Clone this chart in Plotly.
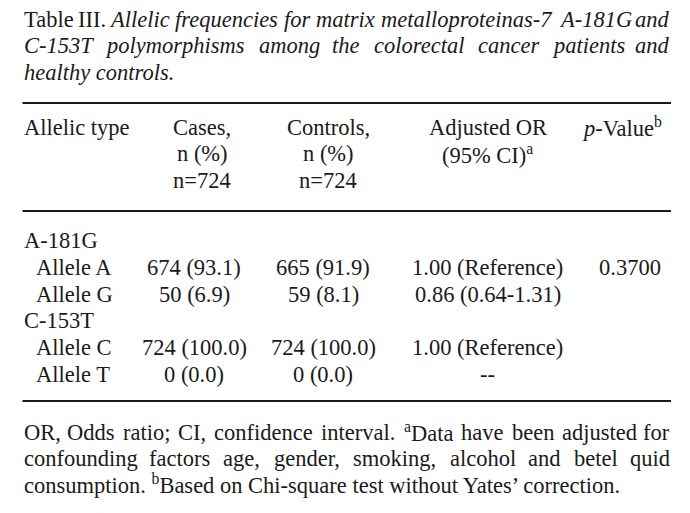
import plotly.graph_objects as go

# ---------------- data ----------------
title_prefix = "Table III."
title_text = ("Allelic frequencies for matrix metalloproteinas-7 A-181G and "
              "C-153T polymorphisms among the colorectal cancer patients and "
              "healthy controls.")
header_cols = ["Allelic type", "Cases,<br>n (%)<br>n=724", "Controls,<br>n (%)<br>n=724",
               "Adjusted OR<br>(95% CI)<sup>a</sup>", "<i>p</i>-Value<sup>b</sup>"]
loci = ["A-181G", "C-153T"]
alleles = ["Allele A", "Allele G", "Allele C", "Allele T"]
cases_n = [674, 50, 724, 0]
cases_pct = [93.1, 6.9, 100.0, 0.0]
controls_n = [665, 59, 724, 0]
controls_pct = [91.9, 8.1, 100.0, 0.0]
adjusted_or = ["1.00 (Reference)", "0.86 (0.64-1.31)", "1.00 (Reference)", "--"]
p_values = ["0.3700", "", "", ""]
footnote_lines = [
    ["OR,", "Odds", "ratio;", "CI,", "confidence", "interval.", "<sup>a</sup>Data", "have", "been", "adjusted", "for"],
    ["confounding", "factors", "age,", "gender,", "smoking,", "alcohol", "and", "betel", "quid"],
]
footnote_last = "consumption. <sup>b</sup>Based on Chi-square test without Yates\u2019 correction."

# ---------------- style ----------------
FONT = "Liberation Serif, Times New Roman, serif"
FS = 22.5
COLOR = "#1a1a1a"
LEFT, RIGHT = 22.5, 671
OFF = 8  # page body margin

# Times metrics (1/1000 em) for justification
ROMAN = dict(zip("ABCDEFGHIJKLMNOPQRSTUVWXYZ",
                 [722, 667, 667, 722, 611, 556, 722, 722, 333, 389, 722, 611, 889, 722, 722, 556, 722, 667, 556, 611, 722, 722, 944, 722, 722, 611]))
ROMAN.update(zip("abcdefghijklmnopqrstuvwxyz",
                 [444, 500, 444, 500, 444, 333, 500, 500, 278, 278, 500, 278, 778, 500, 500, 500, 500, 333, 389, 278, 500, 500, 722, 500, 500, 444]))
ROMAN.update({" ": 250, ",": 250, ".": 250, ";": 278, ":": 278, "-": 333, "(": 333, ")": 333, "%": 833, "\u2019": 333})
ITALIC = dict(zip("ABCDEFGHIJKLMNOPQRSTUVWXYZ",
                  [611, 611, 667, 722, 611, 611, 722, 722, 333, 444, 667, 556, 833, 667, 722, 611, 722, 611, 500, 556, 722, 611, 833, 611, 556, 556]))
ITALIC.update(zip("abcdefghijklmnopqrstuvwxyz",
                  [500, 500, 444, 500, 444, 278, 500, 500, 278, 278, 444, 278, 722, 500, 500, 500, 500, 389, 389, 278, 500, 444, 667, 444, 444, 389]))
ITALIC.update({" ": 250, ",": 250, ".": 250, "-": 333})


def width(word, italic=False):
    table = ITALIC if italic else ROMAN
    sup = False
    w = 0.0
    i = 0
    while i < len(word):
        if word.startswith("<sup>", i):
            sup = True; i += 5; continue
        if word.startswith("</sup>", i):
            sup = False; i += 6; continue
        c = word[i]
        w += table.get(c, 500) * (0.7 if sup else 1.0)
        i += 1
    return w * FS / 1000.0 * (1.03 if italic else 1.0)


fig = go.Figure()


def txt(x, y, text, anchor="left", size=FS):
    fig.add_annotation(x=x, y=y, xref="x", yref="y", text=text, showarrow=False,
                       xanchor=anchor, yanchor="middle", borderpad=0,
                       font=dict(family=FONT, size=size, color=COLOR))


def justify(words, y, italic_flags):
    ws = [width(w, it) for w, it in zip(words, italic_flags)]
    gap = (RIGHT - LEFT - sum(ws)) / (len(words) - 1)
    x = LEFT
    for k, (w, it) in enumerate(zip(words, italic_flags)):
        t = f"<i>{w}</i>" if it else w
        if k == 0:
            txt(LEFT, y, t, "left")
        elif k == len(words) - 1:
            txt(RIGHT, y, t, "right")
        else:
            txt(x + ws[k] / 2, y, t, "center")
        x += ws[k] + gap


# ---------------- title ----------------
tw = title_text.split(" ")
line1 = title_prefix.split(" ") + tw[:7]
it1 = [False, False] + [True] * 7
line2 = tw[7:15]
line3 = " ".join(tw[15:])
TITLE_Y = [19, 45.5, 72]
justify(line1, TITLE_Y[0], it1)
justify(line2, TITLE_Y[1], [True] * len(line2))
txt(LEFT, TITLE_Y[2], f"<i>{line3}</i>")

# ---------------- rules ----------------
for yy in [103, 211, 401]:
    fig.add_shape(type="line", x0=LEFT, x1=RIGHT, y0=yy, y1=yy, xref="x", yref="y",
                  line=dict(color=COLOR, width=2))

# ---------------- header ----------------
HEAD_Y = [127, 153.5, 180]
HEAD_X = [LEFT, 202, 328, 487.5, 622]
for ci, h in enumerate(header_cols):
    for li, part in enumerate(h.split("<br>")):
        txt(HEAD_X[ci], HEAD_Y[li], part, "left" if ci == 0 else "center")

# ---------------- body ----------------
ROW_Y0, ROW_DY = 240.5, 26.8
COL_X = [35, 194, 323, 487.5, 630]
row = 0
ai = 0
for li, locus in enumerate(loci):
    txt(LEFT, ROW_Y0 + row * ROW_DY, locus)
    row += 1
    for _ in range(2):
        y = ROW_Y0 + row * ROW_DY
        txt(COL_X[0], y, alleles[ai])
        txt(COL_X[1], y, f"{cases_n[ai]} ({cases_pct[ai]:.1f})", "center")
        txt(COL_X[2], y, f"{controls_n[ai]} ({controls_pct[ai]:.1f})", "center")
        txt(COL_X[3], y, adjusted_or[ai], "center")
        if p_values[ai]:
            txt(COL_X[4], y, p_values[ai], "center")
        row += 1
        ai += 1

# ---------------- footnote ----------------
FOOT_Y = [432, 458, 484]
for k, words in enumerate(footnote_lines):
    justify(words, FOOT_Y[k], [False] * len(words))
txt(LEFT, FOOT_Y[2], footnote_last)

# figure sits inside the page's 8px body margin; map axes to page pixels
fig.update_layout(
    width=690 - OFF, height=513 - OFF, margin=dict(l=0, r=0, t=0, b=0),
    paper_bgcolor="white", plot_bgcolor="white", showlegend=False,
    xaxis=dict(range=[OFF, 690], visible=False, fixedrange=True),
    yaxis=dict(range=[513, OFF], visible=False, fixedrange=True),
)
fig.write_html("out.html", config={"displayModeBar": False})
